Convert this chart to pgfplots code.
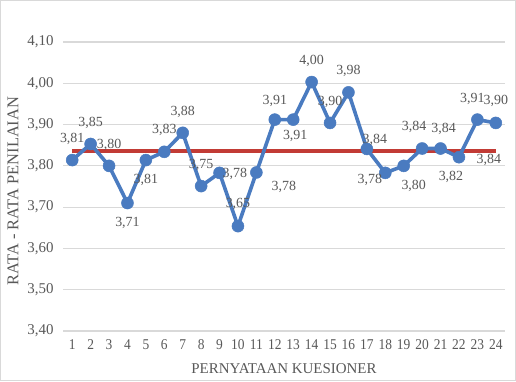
\documentclass[border=0pt]{standalone}
\usepackage{pgfplots}
\pgfplotsset{compat=1.18}
\usepackage{fontspec}
\setmainfont{Liberation Serif}
\newfontfamily\condensed{Liberation Serif}[FakeStretch=0.9]
\definecolor{txt}{HTML}{595959}
\definecolor{blueline}{HTML}{4A7BC0}
\definecolor{redline}{HTML}{C23B35}
\definecolor{gridc}{HTML}{D9D9D9}

\pgfplotsset{
  lbl/.style n args={3}{draw=none, no marks, forget plot,
    nodes near coords={\pgfmathprintnumber[fixed,fixed zerofill,precision=2,use comma,assume math mode=true]{\pgfplotspointmeta}},
    every node near coord/.style={anchor=#1, xshift=#2bp, yshift=#3bp, font=\fontsize{14}{14}\selectfont, text=txt, inner sep=3bp}},
}

\begin{document}
\begin{tikzpicture}[x=1bp,y=1bp]
\draw[draw=gray!30, line width=1.2bp, fill=white] (0.6,0.6) rectangle (515.4,380.4);
\begin{axis}[
  at={(63bp,50bp)}, anchor=south west,
  scale only axis, width=442bp, height=289bp,
  xmin=0.5, xmax=24.5, ymin=3.4, ymax=4.1,
  xtick={1,...,24},
  ytick={3.4,3.5,3.6,3.7,3.8,3.9,4.0,4.1},
  axis line style={draw=none},
  major tick length=0pt,
  ymajorgrids, grid style={draw=gridc, line width=1.2bp},
  /pgf/number format/assume math mode=true,
  yticklabel style={/pgf/number format/fixed, /pgf/number format/fixed zerofill, /pgf/number format/precision=2, /pgf/number format/use comma, xshift=-6bp, font=\fontsize{15}{15}\selectfont, text=txt},
  xticklabel style={yshift=-5bp, font=\condensed\fontsize{15}{15}\selectfont, text=txt},
  xlabel={PERNYATAAN KUESIONER},
  ylabel={RATA - RATA PENILAIAN},
  every axis x label/.style={at={(axis description cs:0.5,-0.13)}, anchor=center, font=\fontsize{15}{15}\selectfont, text=txt},
  every axis y label/.style={at={(axis description cs:-0.113,0.484)}, rotate=90, anchor=center, font=\fontsize{16.5}{16.5}\selectfont, text=txt},
  clip=false,
]
\addplot[redline, line width=4bp, no marks] coordinates {(1,3.837) (24,3.837)};
\addplot[blueline, line width=3.6bp, mark=*, mark size=6bp,
  mark options={fill=blueline, draw=blueline, line width=0.5bp}] coordinates {
(1,3.814) (2,3.853) (3,3.800) (4,3.710) (5,3.814) (6,3.834) (7,3.880) (8,3.751)
(9,3.783) (10,3.654) (11,3.784) (12,3.912) (13,3.912) (14,4.003) (15,3.904) (16,3.978)
(17,3.841) (18,3.783) (19,3.800) (20,3.842) (21,3.842) (22,3.821) (23,3.912) (24,3.904)};
% data labels
\addplot[lbl={south}{0}{12}] coordinates {(1,3.814) (2,3.853) (3,3.800) (7,3.880) (8,3.751)
  (14,4.003) (15,3.904)};
\addplot[lbl={south}{0}{13}] coordinates {(6,3.834) (10,3.654) (16,3.978) (24,3.904)};
\addplot[lbl={south}{0}{10}] coordinates {(12,3.912)};
\addplot[lbl={north}{0}{-11}] coordinates {(4,3.710) (5,3.814)};
\addplot[lbl={north}{2}{-7}] coordinates {(13,3.912)};
\addplot[lbl={west}{0}{-1}] coordinates {(9,3.783)};
\addplot[lbl={north west}{12}{-6}] coordinates {(11,3.784)};
\addplot[lbl={south}{8}{0}] coordinates {(17,3.841)};
\addplot[lbl={east}{0}{-7}] coordinates {(18,3.783)};
\addplot[lbl={north}{10}{-11}] coordinates {(19,3.800)};
\addplot[lbl={south}{-8}{13}] coordinates {(20,3.842)};
\addplot[lbl={south}{3}{11}] coordinates {(21,3.842)};
\addplot[lbl={north}{-8}{-11}] coordinates {(22,3.821)};
\addplot[lbl={south}{-5}{12}] coordinates {(23,3.912)};
\addplot[lbl={north}{-7}{0}] coordinates {(24,3.837)};
\end{axis}
\end{tikzpicture}
\end{document}
